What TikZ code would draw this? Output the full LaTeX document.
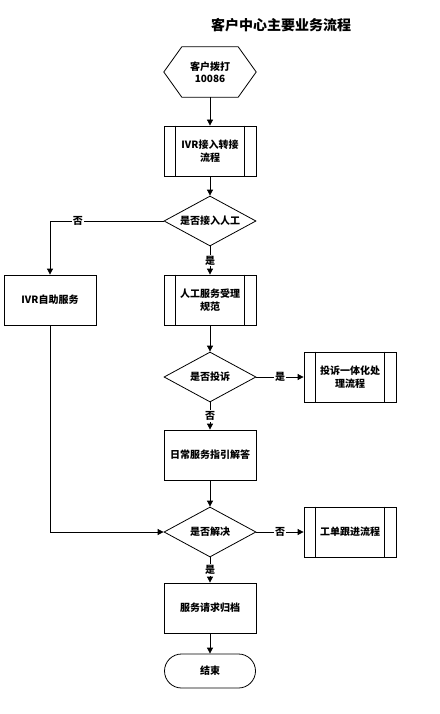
\documentclass[tikz,border=0pt]{standalone}
\usepackage{fontspec}
\setmainfont{Noto Sans CJK SC}
\usetikzlibrary{arrows.meta,shapes.geometric,shapes.misc}
\begin{document}
\begin{tikzpicture}[x=1pt,y=-1pt,
  every node/.style={font=\fontsize{10}{12.5}\selectfont\bfseries, align=center},
  box/.style={draw, line width=0.8pt, rectangle, minimum width=92pt, minimum height=50pt, inner sep=0pt, fill=white},
  dec/.style={draw, line width=0.8pt, diamond, aspect=1.84, minimum width=92pt, minimum height=50pt, inner sep=0pt, fill=white},
  term/.style={draw, line width=0.8pt, rounded rectangle, minimum width=91pt, minimum height=34pt, inner sep=0pt},
  conn/.style={line width=0.8pt, -{Triangle[length=6pt,width=6pt]}},
  lab/.style={fill=white, inner sep=1pt, font=\fontsize{10}{11}\selectfont\bfseries}
]
\path[use as bounding box] (0,0) rectangle (439,714);

\node[font=\fontsize{14}{15}\selectfont\bfseries] (title) at (281,25) {客户中心主要业务流程};

% start hexagon
\node[minimum width=92pt, minimum height=50pt, inner sep=0pt] (start) at (210,72) {客户拨打\\10086};
\draw[line width=0.8pt] (start.west) -- ([xshift=18pt]start.north west) -- ([xshift=-18pt]start.north east) -- (start.east) -- ([xshift=-18pt]start.south east) -- ([xshift=18pt]start.south west) -- cycle;

\node[box] (p1) at (210,151) {IVR接入转接\\流程};
\draw[line width=0.8pt] ([xshift=12pt]p1.north west) -- ([xshift=12pt]p1.south west);
\draw[line width=0.8pt] ([xshift=-12pt]p1.north east) -- ([xshift=-12pt]p1.south east);

\node[dec] (d1) at (210,221) {是否接入人工};

\node[box] (ivr) at (50,300) {IVR自助服务};

\node[box] (p2) at (210,300) {人工服务受理\\规范};
\draw[line width=0.8pt] ([xshift=12pt]p2.north west) -- ([xshift=12pt]p2.south west);
\draw[line width=0.8pt] ([xshift=-12pt]p2.north east) -- ([xshift=-12pt]p2.south east);

\node[dec] (d2) at (210,377) {是否投诉};

\node[box] (p3) at (350,377) {投诉一体化处\\理流程};
\draw[line width=0.8pt] ([xshift=12pt]p3.north west) -- ([xshift=12pt]p3.south west);
\draw[line width=0.8pt] ([xshift=-12pt]p3.north east) -- ([xshift=-12pt]p3.south east);

\node[box] (p4) at (210,455) {日常服务指引解答};

\node[dec] (d3) at (210,532) {是否解决};

\node[box] (p5) at (350,532) {工单跟进流程};
\draw[line width=0.8pt] ([xshift=12pt]p5.north west) -- ([xshift=12pt]p5.south west);
\draw[line width=0.8pt] ([xshift=-12pt]p5.north east) -- ([xshift=-12pt]p5.south east);

\node[box] (p6) at (210,608) {服务请求归档};

\node[term] (end) at (210,671) {结束};

% connectors
\draw[conn] (start.south) -- (p1.north);
\draw[conn] (p1.south) -- (d1.north);
\draw[conn] (d1.south) -- node[lab] {是} (p2.north);
\draw[conn] (d1.west) -| node[lab, pos=0.377] {否} (ivr.north);
\draw[conn] (p2.south) -- (d2.north);
\draw[conn] (d2.east) -- node[lab] {是} (p3.west);
\draw[conn] (d2.south) -- node[lab] {否} (p4.north);
\draw[conn] (p4.south) -- (d3.north);
\draw[conn] (d3.east) -- node[lab] {否} (p5.west);
\draw[conn] (d3.south) -- node[lab] {是} (p6.north);
\draw[conn] (ivr.south) |- (d3.west);
\draw[conn] (p6.south) -- (end.north);
\end{tikzpicture}
\end{document}
